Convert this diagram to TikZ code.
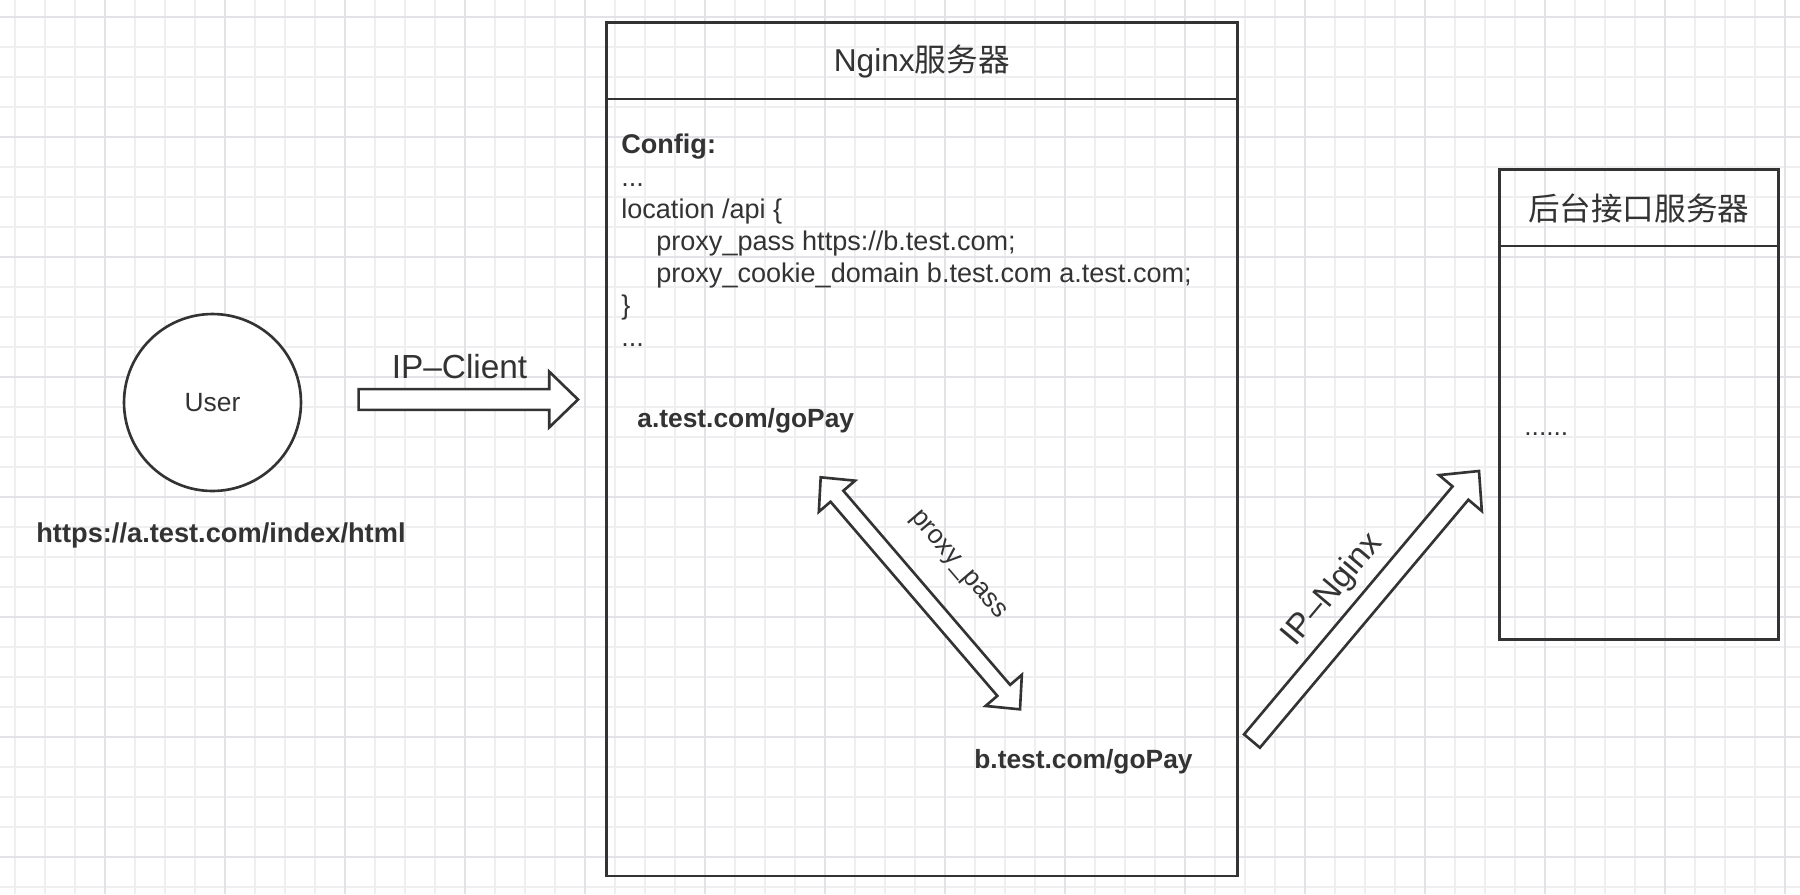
\documentclass[tikz,border=0pt]{standalone}
\usepackage{fontspec}
\setmainfont{Liberation Sans}
\newfontfamily\cjk{Noto Sans CJK SC}
\usetikzlibrary{calc,positioning}
\definecolor{ink}{HTML}{333333}
\definecolor{gridlight}{HTML}{EFEFF2}
\definecolor{griddark}{HTML}{E2E2E7}
\tikzset{
  finegrid/.style = {gridlight, line width=0.6pt},
  boldgrid/.style = {griddark, line width=0.8pt},
  box/.style = {draw=ink, line width=1.5pt, rectangle, inner sep=0pt,
    anchor=north west},% plain frame, no fill
  boxline/.style = {ink, line width=1.5pt},
  boxtitle/.style = {text=ink, inner sep=0pt, font=\fontsize{18pt}{21pt}\selectfont},
  txt/.style = {text=ink, inner sep=0pt, font=\fontsize{15pt}{18.3pt}\selectfont},
  lbl/.style = {txt, font=\fontsize{15pt}{18pt}\selectfont\bfseries},
  ip/.style = {text=ink, inner sep=0pt, font=\fontsize{19pt}{22pt}\selectfont},
  % hollow block arrow, tail at start, tip at target
  fatarrow/.style = {draw=ink, line width=1.5pt, fill=white, line join=miter,
    to path={let \p1=(\tikztostart), \p2=(\tikztotarget),
      \n1={atan2(\y2-\y1,\x2-\x1)}, \n2={veclen(\x2-\x1,\y2-\y1)} in
      ($(\p1)+({\n1+90}:5.9pt)$)
      -- ($(\p1)+(\n1:{\n2-16.4pt})+({\n1+90}:5.9pt)$)
      -- ($(\p1)+(\n1:{\n2-16.4pt})+({\n1+90}:15.9pt)$)
      -- (\p2)
      -- ($(\p1)+(\n1:{\n2-16.4pt})+({\n1-90}:15.9pt)$)
      -- ($(\p1)+(\n1:{\n2-16.4pt})+({\n1-90}:5.9pt)$)
      -- ($(\p1)+({\n1-90}:5.9pt)$) -- cycle}},
  % hollow block arrow with a head at both ends
  fatboth/.style = {draw=ink, line width=1.5pt, fill=white, line join=miter,
    to path={let \p1=(\tikztostart), \p2=(\tikztotarget),
      \n1={atan2(\y2-\y1,\x2-\x1)}, \n2={veclen(\x2-\x1,\y2-\y1)} in
      (\p1)
      -- ($(\p1)+(\n1:14.2pt)+({\n1+90}:13.6pt)$)
      -- ($(\p1)+(\n1:14.2pt)+({\n1+90}:4.8pt)$)
      -- ($(\p1)+(\n1:{\n2-14.2pt})+({\n1+90}:4.8pt)$)
      -- ($(\p1)+(\n1:{\n2-14.2pt})+({\n1+90}:13.6pt)$)
      -- (\p2)
      -- ($(\p1)+(\n1:{\n2-14.2pt})+({\n1-90}:13.6pt)$)
      -- ($(\p1)+(\n1:{\n2-14.2pt})+({\n1-90}:4.8pt)$)
      -- ($(\p1)+(\n1:14.2pt)+({\n1-90}:4.8pt)$)
      -- ($(\p1)+(\n1:14.2pt)+({\n1-90}:13.6pt)$) -- cycle}}
}

\begin{document}
\begin{tikzpicture}[x=0.02cm, y=-0.02cm]
\useasboundingbox (0,0) rectangle (1800,894);
\fill[white] (0,0) rectangle (1800,894);
% grid paper
\foreach \gx in {15,45,...,1785} \draw[finegrid] (\gx,0) -- (\gx,894);
\foreach \gy in {17,47,...,887} \draw[finegrid] (0,\gy) -- (1800,\gy);
\foreach \gx in {105,225,...,1785} \draw[boldgrid] (\gx,0) -- (\gx,894);
\foreach \gy in {17,137,...,857} \draw[boldgrid] (0,\gy) -- (1800,\gy);

% client
\node[txt, circle, draw=ink, line width=1.5pt, fill=white, minimum size=3.54cm] (user) at (212.5,402.5) {User};
\node[lbl, font=\fontsize{15.5pt}{18pt}\selectfont\bfseries, anchor=base west] (url) at (36,542) {https://a.test.com/index/html};

% nginx server
\node[box, minimum width=12.62cm, minimum height=17.08cm] (nginx) at (605,21) {};
\draw[boxline] ($(nginx.north west)+(0,78)$) -- ($(nginx.north east)+(0,78)$);
\node[boxtitle] (nginx-title) at ($(nginx.north)+(0,40)$) {Nginx{\cjk 服务器}};
\node[txt, font=\fontsize{15.4pt}{18.3pt}\selectfont, align=left, anchor=north west] (config) at (621,134) {{\bfseries Config:}\\
...\\
location /api \{\\
\hspace*{0.7cm}proxy\_pass https://b.test.com;\\
\hspace*{0.7cm}proxy\_cookie\_domain b.test.com a.test.com;\\
\}\\
...};
\node[lbl, anchor=base west] (agopay) at (637,427) {a.test.com/goPay};
\node[lbl, anchor=base west] (bgopay) at (974,768) {b.test.com/goPay};

% backend server
\node[box, minimum width=5.58cm, minimum height=9.4cm] (api) at (1498,168) {};
\draw[boxline] ($(api.north west)+(0,78)$) -- ($(api.north east)+(0,78)$);
\node[boxtitle] (api-title) at ($(api.north)+(0,40)$) {{\cjk 后台接口服务器}};
\node[txt, anchor=base west] (api-dots) at (1524,435) {......};

% connectors
\coordinate (ipc-s) at (358.6,399.5);
\coordinate (ipc-e) at (578,399.5);
\coordinate (pp-a) at (820.7,477.3);
\coordinate (pp-b) at (1020,709.3);
\coordinate (ipn-s) at (1252,741);
\coordinate (ipn-e) at (1479,471);

\draw[fatarrow] (ipc-s) to (ipc-e);
\path (ipc-s) -- (ipc-e) node[ip, pos=0.46, above=0.40cm] (ipc-label) {IP--Client};
\draw[fatboth] (pp-a) to (pp-b);
\path (pp-a) -- (pp-b) node[txt, pos=0.51, sloped, above=0.72cm] (pp-label) {proxy\_pass};
\draw[fatarrow] (ipn-s) to (ipn-e);
\path (ipn-s) -- (ipn-e) node[ip, pos=0.475, sloped, above=0.39cm] (ipn-label) {IP--Nginx};
\end{tikzpicture}
\end{document}
